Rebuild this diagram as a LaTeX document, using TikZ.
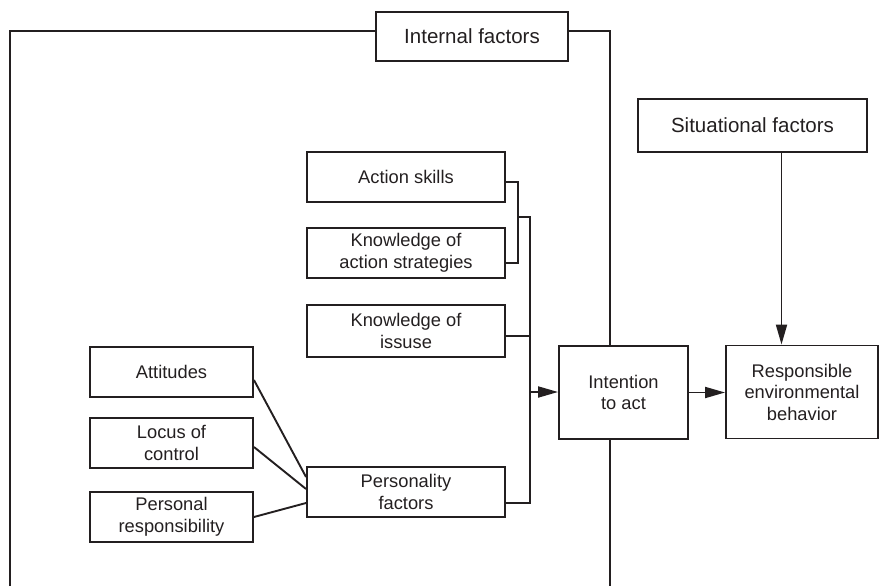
\documentclass[tikz,border=0pt]{standalone}
\usepackage{fontspec}
\setmainfont{Liberation Sans}
\usetikzlibrary{arrows.meta}
\definecolor{ink}{HTML}{231F20}
\tikzset{
  box/.style={draw=ink, line width=1.9pt, inner sep=0pt, align=center, text=ink,
    font=\fontsize{18.3}{21.5}\selectfont},
  bigbox/.style={box, font=\fontsize{20.5}{24}\selectfont},
  conn/.style={draw=ink, line width=1.9pt},
  arr/.style={conn, -{Triangle[length=20pt,width=11pt]}}
}
\begin{document}
\begin{tikzpicture}[x=1pt,y=-1pt]
\useasboundingbox (0,0) rectangle (880,586);
% nodes
\node[bigbox, minimum width=192, minimum height=49] (internal) at (472,36.5) {Internal factors};
\node[bigbox, minimum width=229, minimum height=53] (sit) at (752.5,125.5) {Situational factors};
\node[box, minimum width=198, minimum height=50] (as) at (406,177) {Action skills};
\node[box, minimum width=198, minimum height=50] (kas) at (406,253) {Knowledge of\\action strategies};
\node[box, minimum width=198, minimum height=52] (ki) at (406,331) {Knowledge of\\issuse};
\node[box, minimum width=198, minimum height=50] (pf) at (406,492) {Personality\\factors};
\node[box, minimum width=163, minimum height=50] (att) at (171.5,372) {Attitudes};
\node[box, minimum width=163, minimum height=50] (loc) at (171.5,443) {Locus of\\control};
\node[box, minimum width=163, minimum height=50] (pr) at (171.5,517) {Personal\\responsibility};
\node[box, minimum width=129, minimum height=93] (int) at (623.5,392.5) {Intention\\to act};
\node[box, minimum width=152, minimum height=93] (rb) at (802,392) {Responsible\\environmental\\behavior};
% frame coordinates
\coordinate (fbl) at (10,586);
\coordinate (ftl) at (10,31);
\coordinate (ftr) at (610,31);
\coordinate (fbr) at (610,586);
\draw[conn] (fbl) -- (ftl) -- (internal.west |- ftl);
\draw[conn] (internal.east |- ftr) -- (ftr) -- (ftr |- int.north);
\draw[conn] (ftr |- int.south) -- (fbr);
% bracket
\coordinate (b1) at (518,217);
\coordinate (b2) at (530,217);
\coordinate (b3) at (530,503);
\coordinate (b4) at (530,392);
\draw[conn] ([yshift=-5pt]as.east) -| (b1) |- ([yshift=-10pt]kas.east);
\draw[conn] (b1) -- (b2) -- (b3) -- (pf.east |- b3);
\draw[conn] ([yshift=-5pt]ki.east) -- (b2 |- 0,336);
\draw[arr] (b4) -- (int.west |- b4);
% left connectors
\draw[conn] ([yshift=-8pt]att.east) -- ([yshift=15pt]pf.west);
\draw[conn] ([yshift=-4pt]loc.east) -- ([yshift=3pt]pf.west);
\draw[conn] (pr.east) -- ([yshift=-11pt]pf.west);
% right arrows
\draw[arr] (int.east) -- (rb.west |- int.east);
\draw[arr] ([xshift=29pt]sit.south) -- ([xshift=29pt]sit.south |- rb.north);
\end{tikzpicture}
\end{document}
